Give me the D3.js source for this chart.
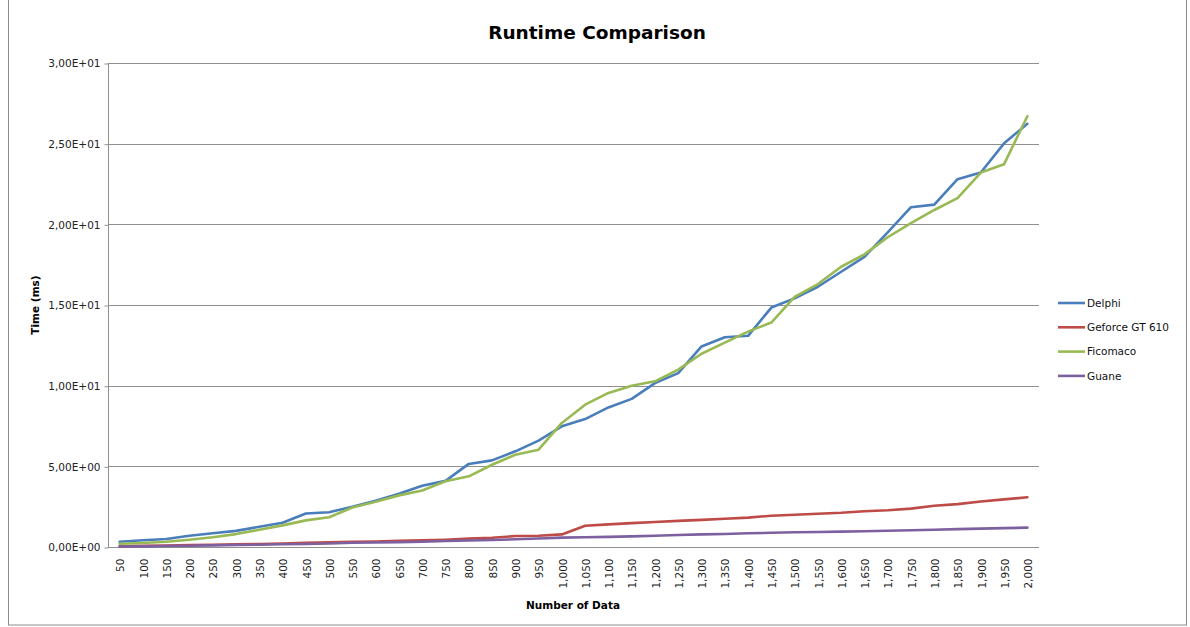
<!DOCTYPE html>
<html>
<head>
<meta charset="utf-8">
<script src="https://cdn.jsdelivr.net/npm/d3@7"></script>
<style>
  html, body { margin: 0; padding: 0; background: #fff; }
  svg { display: block; }
  text { font-family: "DejaVu Sans", Verdana, sans-serif; }
</style>
</head>
<body>
<svg id="chart" width="1190" height="627"></svg>
<script>
// Number of data points (category axis)
const categories = ["50","100","150","200","250","300","350","400","450","500",
  "550","600","650","700","750","800","850","900","950","1,000",
  "1,050","1,100","1,150","1,200","1,250","1,300","1,350","1,400","1,450","1,500",
  "1,550","1,600","1,650","1,700","1,750","1,800","1,850","1,900","1,950","2,000"];

// Runtime per implementation (ms)
const delphi = [0.33,0.42,0.50,0.70,0.85,1.00,1.25,1.50,2.08,2.15,
  2.50,2.87,3.30,3.80,4.10,5.15,5.37,5.93,6.59,7.48,
  7.93,8.65,9.18,10.16,10.78,12.43,13.00,13.09,14.84,15.41,
  16.13,17.06,17.98,19.50,21.06,21.22,22.80,23.21,25.02,26.23];

const geforce = [0.05,0.07,0.09,0.12,0.14,0.16,0.19,0.22,0.26,0.29,
  0.32,0.34,0.38,0.41,0.45,0.52,0.57,0.68,0.70,0.78,
  1.32,1.40,1.48,1.55,1.62,1.68,1.75,1.82,1.94,2.00,
  2.06,2.12,2.22,2.28,2.38,2.56,2.66,2.82,2.95,3.08];

const ficomaco = [0.20,0.25,0.33,0.45,0.60,0.80,1.07,1.34,1.65,1.84,
  2.45,2.80,3.20,3.50,4.08,4.38,5.10,5.72,6.03,7.69,
  8.82,9.55,10.00,10.27,10.99,11.98,12.67,13.35,13.91,15.51,
  16.30,17.37,18.14,19.20,20.07,20.89,21.63,23.21,23.73,26.70];

const guane = [0.03,0.04,0.06,0.08,0.10,0.12,0.14,0.17,0.19,0.22,
  0.26,0.28,0.30,0.33,0.37,0.40,0.43,0.48,0.53,0.58,
  0.60,0.63,0.66,0.70,0.74,0.78,0.81,0.85,0.88,0.91,
  0.93,0.95,0.98,1.01,1.04,1.07,1.11,1.14,1.17,1.20];

const seriesNames = ["Delphi", "Geforce GT 610", "Ficomaco", "Guane"];
const seriesColors = ["#4A7EBB", "#BE4B48", "#98B954", "#7D60A0"];
const seriesValues = [delphi, geforce, ficomaco, guane];

const yTicks = [0, 5, 10, 15, 20, 25, 30];

// Scientific format with comma decimal: 3,00E+01
function sci(v) {
  if (v === 0) return "0,00E+00";
  const e = Math.floor(Math.log10(Math.abs(v)));
  const m = v / Math.pow(10, e);
  const sign = e < 0 ? "-" : "+";
  return m.toFixed(2).replace(".", ",") + "E" + sign + String(Math.abs(e)).padStart(2, "0");
}

const svg = d3.select("#chart");
const plot = { left: 108, right: 1039, top: 63, bottom: 547 };

// outer chart frame
svg.append("rect")
  .attr("x", 8.5).attr("y", -1).attr("width", 1178).attr("height", 626)
  .attr("fill", "#fff").attr("stroke", "#8c8c8c").attr("stroke-width", 1);

const x = d3.scaleBand().domain(categories).range([plot.left, plot.right]);
const y = d3.scaleLinear().domain([0, 30]).range([plot.bottom, plot.top]);

// horizontal gridlines
svg.append("g")
  .selectAll("line")
  .data(yTicks.filter(t => t > 0))
  .join("line")
  .attr("x1", plot.left).attr("x2", plot.right)
  .attr("y1", d => Math.round(y(d)) + 0.5).attr("y2", d => Math.round(y(d)) + 0.5)
  .attr("stroke", "#8f8f8f").attr("stroke-width", 1);

// y axis
const yAxis = svg.append("g")
  .attr("transform", `translate(${plot.left + 0.5},0.5)`)
  .call(d3.axisLeft(y).tickValues(yTicks).tickFormat(sci).tickSize(4).tickPadding(4));
yAxis.select(".domain").attr("stroke", "#8f8f8f").attr("d", `M-0,${plot.top}V${plot.bottom}`);
yAxis.selectAll(".tick line").attr("stroke", "#8f8f8f");
yAxis.selectAll(".tick text").attr("font-size", 10.5).attr("fill", "#222")
  .attr("font-family", "'DejaVu Sans', Verdana, sans-serif");

// x axis
const xAxis = svg.append("g")
  .attr("transform", `translate(0,${Math.round(plot.bottom) + 0.5})`)
  .call(d3.axisBottom(x).tickSize(0).tickPadding(0));
xAxis.select(".domain").attr("stroke", "#8f8f8f").attr("d", `M${plot.left},0H${plot.right}`);
xAxis.selectAll(".tick text")
  .attr("font-size", 10.5).attr("fill", "#222")
  .attr("text-anchor", "end")
  .attr("dy", "0.35em")
  .attr("transform", "translate(1,11) rotate(-90)")
  .attr("x", 0).attr("y", 0);

// series lines
const line = d3.line()
  .x((d, i) => x(categories[i]) + x.bandwidth() / 2)
  .y(d => y(d));

svg.append("g")
  .selectAll("path")
  .data(seriesValues)
  .join("path")
  .attr("d", d => line(d))
  .attr("fill", "none")
  .attr("stroke", (d, i) => seriesColors[i])
  .attr("stroke-width", 2.6)
  .attr("stroke-linejoin", "round")
  .attr("stroke-linecap", "round");

// title
svg.append("text")
  .attr("x", 597).attr("y", 39)
  .attr("text-anchor", "middle")
  .attr("font-family", "Lato, 'Open Sans', sans-serif")
  .attr("font-weight", "bold").attr("font-size", 18.5).attr("fill", "#000")
  .text("Runtime Comparison");

// axis titles
svg.append("text")
  .attr("transform", "translate(39,305) rotate(-90)")
  .attr("text-anchor", "middle")
  .attr("font-weight", "bold").attr("font-size", 10.5).attr("fill", "#000")
  .text("Time (ms)");

svg.append("text")
  .attr("x", 573).attr("y", 609)
  .attr("text-anchor", "middle")
  .attr("font-weight", "bold").attr("font-size", 10.5).attr("fill", "#000")
  .text("Number of Data");

// legend
const legend = svg.append("g").attr("transform", "translate(1058,303)");
const items = legend.selectAll("g")
  .data(seriesNames)
  .join("g")
  .attr("transform", (d, i) => `translate(0,${i * 24.3})`);
items.append("line")
  .attr("x1", 0).attr("x2", 27).attr("y1", 0).attr("y2", 0)
  .attr("stroke", (d, i) => seriesColors[i]).attr("stroke-width", 2.6);
items.append("text")
  .attr("x", 29).attr("y", 0).attr("dy", "0.35em")
  .attr("font-size", 10.5).attr("fill", "#111")
  .text(d => d);
</script>
</body>
</html>
